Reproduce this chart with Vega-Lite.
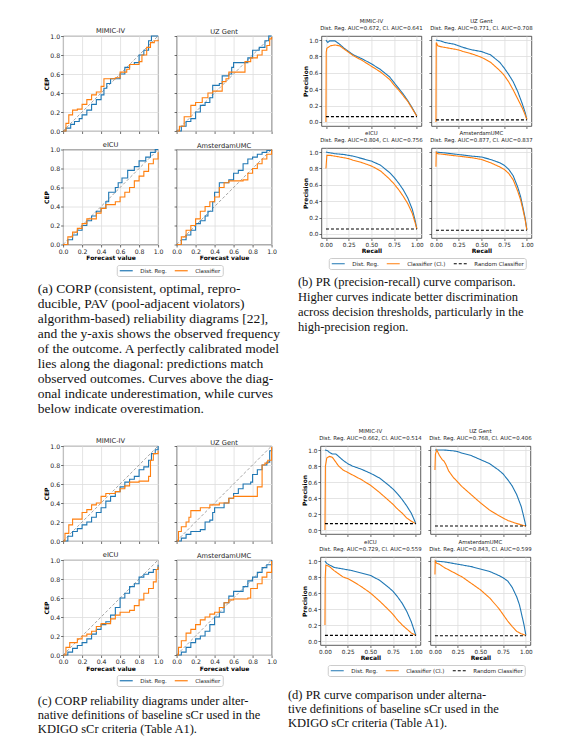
{
"$schema": "https://vega.github.io/schema/vega-lite/v6.json",
"background": "white",
"padding": {"left": 37, "top": 18, "right": 5, "bottom": 3},
"datasets": {
"diag": [{"x":0,"y":0},{"x":1,"y":1}],
"a": [
{"d":"MIMIC-IV","s":"Dist. Reg.","x":0,"y":0},{"d":"MIMIC-IV","s":"Dist. Reg.","x":0.03,"y":0.03},{"d":"MIMIC-IV","s":"Dist. Reg.","x":0.08,"y":0.07},{"d":"MIMIC-IV","s":"Dist. Reg.","x":0.12,"y":0.1},{"d":"MIMIC-IV","s":"Dist. Reg.","x":0.17,"y":0.13},{"d":"MIMIC-IV","s":"Dist. Reg.","x":0.2,"y":0.17},{"d":"MIMIC-IV","s":"Dist. Reg.","x":0.25,"y":0.22},{"d":"MIMIC-IV","s":"Dist. Reg.","x":0.3,"y":0.28},{"d":"MIMIC-IV","s":"Dist. Reg.","x":0.35,"y":0.33},{"d":"MIMIC-IV","s":"Dist. Reg.","x":0.4,"y":0.38},{"d":"MIMIC-IV","s":"Dist. Reg.","x":0.43,"y":0.45},{"d":"MIMIC-IV","s":"Dist. Reg.","x":0.46,"y":0.5},{"d":"MIMIC-IV","s":"Dist. Reg.","x":0.5,"y":0.55},{"d":"MIMIC-IV","s":"Dist. Reg.","x":0.6,"y":0.6},{"d":"MIMIC-IV","s":"Dist. Reg.","x":0.65,"y":0.67},{"d":"MIMIC-IV","s":"Dist. Reg.","x":0.7,"y":0.7},{"d":"MIMIC-IV","s":"Dist. Reg.","x":0.75,"y":0.72},{"d":"MIMIC-IV","s":"Dist. Reg.","x":0.8,"y":0.8},{"d":"MIMIC-IV","s":"Dist. Reg.","x":0.85,"y":0.85},{"d":"MIMIC-IV","s":"Dist. Reg.","x":0.9,"y":0.95},{"d":"MIMIC-IV","s":"Dist. Reg.","x":0.93,"y":1},{"d":"MIMIC-IV","s":"Dist. Reg.","x":1,"y":1},
{"d":"MIMIC-IV","s":"Classifier","x":0,"y":0},{"d":"MIMIC-IV","s":"Classifier","x":0.03,"y":0.08},{"d":"MIMIC-IV","s":"Classifier","x":0.06,"y":0.17},{"d":"MIMIC-IV","s":"Classifier","x":0.1,"y":0.22},{"d":"MIMIC-IV","s":"Classifier","x":0.15,"y":0.23},{"d":"MIMIC-IV","s":"Classifier","x":0.2,"y":0.28},{"d":"MIMIC-IV","s":"Classifier","x":0.25,"y":0.33},{"d":"MIMIC-IV","s":"Classifier","x":0.3,"y":0.38},{"d":"MIMIC-IV","s":"Classifier","x":0.35,"y":0.41},{"d":"MIMIC-IV","s":"Classifier","x":0.4,"y":0.47},{"d":"MIMIC-IV","s":"Classifier","x":0.43,"y":0.55},{"d":"MIMIC-IV","s":"Classifier","x":0.55,"y":0.56},{"d":"MIMIC-IV","s":"Classifier","x":0.6,"y":0.62},{"d":"MIMIC-IV","s":"Classifier","x":0.67,"y":0.65},{"d":"MIMIC-IV","s":"Classifier","x":0.7,"y":0.7},{"d":"MIMIC-IV","s":"Classifier","x":0.8,"y":0.73},{"d":"MIMIC-IV","s":"Classifier","x":0.83,"y":0.8},{"d":"MIMIC-IV","s":"Classifier","x":0.88,"y":0.88},{"d":"MIMIC-IV","s":"Classifier","x":0.92,"y":0.93},{"d":"MIMIC-IV","s":"Classifier","x":0.96,"y":0.95},{"d":"MIMIC-IV","s":"Classifier","x":1,"y":0.96},
{"d":"UZ Gent","s":"Dist. Reg.","x":0,"y":0},{"d":"UZ Gent","s":"Dist. Reg.","x":0.05,"y":0.05},{"d":"UZ Gent","s":"Dist. Reg.","x":0.1,"y":0.1},{"d":"UZ Gent","s":"Dist. Reg.","x":0.15,"y":0.13},{"d":"UZ Gent","s":"Dist. Reg.","x":0.2,"y":0.2},{"d":"UZ Gent","s":"Dist. Reg.","x":0.25,"y":0.27},{"d":"UZ Gent","s":"Dist. Reg.","x":0.3,"y":0.3},{"d":"UZ Gent","s":"Dist. Reg.","x":0.35,"y":0.35},{"d":"UZ Gent","s":"Dist. Reg.","x":0.38,"y":0.48},{"d":"UZ Gent","s":"Dist. Reg.","x":0.45,"y":0.5},{"d":"UZ Gent","s":"Dist. Reg.","x":0.48,"y":0.58},{"d":"UZ Gent","s":"Dist. Reg.","x":0.55,"y":0.6},{"d":"UZ Gent","s":"Dist. Reg.","x":0.58,"y":0.67},{"d":"UZ Gent","s":"Dist. Reg.","x":0.6,"y":0.72},{"d":"UZ Gent","s":"Dist. Reg.","x":0.75,"y":0.77},{"d":"UZ Gent","s":"Dist. Reg.","x":0.8,"y":0.85},{"d":"UZ Gent","s":"Dist. Reg.","x":0.87,"y":0.88},{"d":"UZ Gent","s":"Dist. Reg.","x":0.93,"y":0.95},{"d":"UZ Gent","s":"Dist. Reg.","x":0.97,"y":1},{"d":"UZ Gent","s":"Dist. Reg.","x":1,"y":1},
{"d":"UZ Gent","s":"Classifier","x":0,"y":0},{"d":"UZ Gent","s":"Classifier","x":0.03,"y":0.05},{"d":"UZ Gent","s":"Classifier","x":0.08,"y":0.15},{"d":"UZ Gent","s":"Classifier","x":0.15,"y":0.27},{"d":"UZ Gent","s":"Classifier","x":0.2,"y":0.3},{"d":"UZ Gent","s":"Classifier","x":0.27,"y":0.35},{"d":"UZ Gent","s":"Classifier","x":0.33,"y":0.4},{"d":"UZ Gent","s":"Classifier","x":0.38,"y":0.42},{"d":"UZ Gent","s":"Classifier","x":0.45,"y":0.42},{"d":"UZ Gent","s":"Classifier","x":0.48,"y":0.52},{"d":"UZ Gent","s":"Classifier","x":0.52,"y":0.55},{"d":"UZ Gent","s":"Classifier","x":0.55,"y":0.62},{"d":"UZ Gent","s":"Classifier","x":0.7,"y":0.62},{"d":"UZ Gent","s":"Classifier","x":0.72,"y":0.73},{"d":"UZ Gent","s":"Classifier","x":0.78,"y":0.77},{"d":"UZ Gent","s":"Classifier","x":0.85,"y":0.8},{"d":"UZ Gent","s":"Classifier","x":0.9,"y":0.85},{"d":"UZ Gent","s":"Classifier","x":0.95,"y":0.9},{"d":"UZ Gent","s":"Classifier","x":0.98,"y":0.97},{"d":"UZ Gent","s":"Classifier","x":1,"y":0.99},
{"d":"eICU","s":"Dist. Reg.","x":0,"y":0},{"d":"eICU","s":"Dist. Reg.","x":0.05,"y":0.05},{"d":"eICU","s":"Dist. Reg.","x":0.1,"y":0.1},{"d":"eICU","s":"Dist. Reg.","x":0.15,"y":0.15},{"d":"eICU","s":"Dist. Reg.","x":0.2,"y":0.2},{"d":"eICU","s":"Dist. Reg.","x":0.25,"y":0.25},{"d":"eICU","s":"Dist. Reg.","x":0.3,"y":0.3},{"d":"eICU","s":"Dist. Reg.","x":0.35,"y":0.35},{"d":"eICU","s":"Dist. Reg.","x":0.4,"y":0.38},{"d":"eICU","s":"Dist. Reg.","x":0.45,"y":0.45},{"d":"eICU","s":"Dist. Reg.","x":0.48,"y":0.55},{"d":"eICU","s":"Dist. Reg.","x":0.55,"y":0.6},{"d":"eICU","s":"Dist. Reg.","x":0.58,"y":0.65},{"d":"eICU","s":"Dist. Reg.","x":0.62,"y":0.7},{"d":"eICU","s":"Dist. Reg.","x":0.68,"y":0.78},{"d":"eICU","s":"Dist. Reg.","x":0.75,"y":0.82},{"d":"eICU","s":"Dist. Reg.","x":0.8,"y":0.88},{"d":"eICU","s":"Dist. Reg.","x":0.87,"y":0.92},{"d":"eICU","s":"Dist. Reg.","x":0.92,"y":0.97},{"d":"eICU","s":"Dist. Reg.","x":0.97,"y":1},{"d":"eICU","s":"Dist. Reg.","x":1,"y":1},
{"d":"eICU","s":"Classifier","x":0,"y":0},{"d":"eICU","s":"Classifier","x":0.05,"y":0.08},{"d":"eICU","s":"Classifier","x":0.1,"y":0.13},{"d":"eICU","s":"Classifier","x":0.15,"y":0.17},{"d":"eICU","s":"Classifier","x":0.2,"y":0.22},{"d":"eICU","s":"Classifier","x":0.25,"y":0.27},{"d":"eICU","s":"Classifier","x":0.35,"y":0.33},{"d":"eICU","s":"Classifier","x":0.4,"y":0.38},{"d":"eICU","s":"Classifier","x":0.45,"y":0.42},{"d":"eICU","s":"Classifier","x":0.55,"y":0.45},{"d":"eICU","s":"Classifier","x":0.6,"y":0.5},{"d":"eICU","s":"Classifier","x":0.65,"y":0.55},{"d":"eICU","s":"Classifier","x":0.7,"y":0.6},{"d":"eICU","s":"Classifier","x":0.75,"y":0.67},{"d":"eICU","s":"Classifier","x":0.8,"y":0.72},{"d":"eICU","s":"Classifier","x":0.85,"y":0.77},{"d":"eICU","s":"Classifier","x":0.9,"y":0.85},{"d":"eICU","s":"Classifier","x":0.95,"y":0.9},{"d":"eICU","s":"Classifier","x":1,"y":0.97},
{"d":"AmsterdamUMC","s":"Dist. Reg.","x":0,"y":0},{"d":"AmsterdamUMC","s":"Dist. Reg.","x":0.05,"y":0.05},{"d":"AmsterdamUMC","s":"Dist. Reg.","x":0.1,"y":0.1},{"d":"AmsterdamUMC","s":"Dist. Reg.","x":0.15,"y":0.15},{"d":"AmsterdamUMC","s":"Dist. Reg.","x":0.2,"y":0.22},{"d":"AmsterdamUMC","s":"Dist. Reg.","x":0.25,"y":0.25},{"d":"AmsterdamUMC","s":"Dist. Reg.","x":0.3,"y":0.3},{"d":"AmsterdamUMC","s":"Dist. Reg.","x":0.33,"y":0.35},{"d":"AmsterdamUMC","s":"Dist. Reg.","x":0.38,"y":0.45},{"d":"AmsterdamUMC","s":"Dist. Reg.","x":0.4,"y":0.55},{"d":"AmsterdamUMC","s":"Dist. Reg.","x":0.45,"y":0.65},{"d":"AmsterdamUMC","s":"Dist. Reg.","x":0.55,"y":0.68},{"d":"AmsterdamUMC","s":"Dist. Reg.","x":0.6,"y":0.75},{"d":"AmsterdamUMC","s":"Dist. Reg.","x":0.65,"y":0.78},{"d":"AmsterdamUMC","s":"Dist. Reg.","x":0.7,"y":0.85},{"d":"AmsterdamUMC","s":"Dist. Reg.","x":0.75,"y":0.9},{"d":"AmsterdamUMC","s":"Dist. Reg.","x":0.8,"y":0.92},{"d":"AmsterdamUMC","s":"Dist. Reg.","x":0.85,"y":0.95},{"d":"AmsterdamUMC","s":"Dist. Reg.","x":0.9,"y":0.97},{"d":"AmsterdamUMC","s":"Dist. Reg.","x":0.95,"y":0.99},{"d":"AmsterdamUMC","s":"Dist. Reg.","x":1,"y":1},
{"d":"AmsterdamUMC","s":"Classifier","x":0,"y":0},{"d":"AmsterdamUMC","s":"Classifier","x":0.05,"y":0.08},{"d":"AmsterdamUMC","s":"Classifier","x":0.1,"y":0.15},{"d":"AmsterdamUMC","s":"Classifier","x":0.15,"y":0.2},{"d":"AmsterdamUMC","s":"Classifier","x":0.2,"y":0.27},{"d":"AmsterdamUMC","s":"Classifier","x":0.25,"y":0.35},{"d":"AmsterdamUMC","s":"Classifier","x":0.3,"y":0.4},{"d":"AmsterdamUMC","s":"Classifier","x":0.35,"y":0.45},{"d":"AmsterdamUMC","s":"Classifier","x":0.4,"y":0.5},{"d":"AmsterdamUMC","s":"Classifier","x":0.45,"y":0.6},{"d":"AmsterdamUMC","s":"Classifier","x":0.5,"y":0.65},{"d":"AmsterdamUMC","s":"Classifier","x":0.55,"y":0.67},{"d":"AmsterdamUMC","s":"Classifier","x":0.7,"y":0.68},{"d":"AmsterdamUMC","s":"Classifier","x":0.75,"y":0.75},{"d":"AmsterdamUMC","s":"Classifier","x":0.8,"y":0.8},{"d":"AmsterdamUMC","s":"Classifier","x":0.85,"y":0.85},{"d":"AmsterdamUMC","s":"Classifier","x":0.9,"y":0.9},{"d":"AmsterdamUMC","s":"Classifier","x":0.95,"y":0.95},{"d":"AmsterdamUMC","s":"Classifier","x":1,"y":1}
],
"c": [
{"d":"MIMIC-IV","s":"Dist. Reg.","x":0,"y":0},{"d":"MIMIC-IV","s":"Dist. Reg.","x":0.05,"y":0.05},{"d":"MIMIC-IV","s":"Dist. Reg.","x":0.1,"y":0.1},{"d":"MIMIC-IV","s":"Dist. Reg.","x":0.15,"y":0.13},{"d":"MIMIC-IV","s":"Dist. Reg.","x":0.2,"y":0.17},{"d":"MIMIC-IV","s":"Dist. Reg.","x":0.25,"y":0.2},{"d":"MIMIC-IV","s":"Dist. Reg.","x":0.3,"y":0.25},{"d":"MIMIC-IV","s":"Dist. Reg.","x":0.35,"y":0.3},{"d":"MIMIC-IV","s":"Dist. Reg.","x":0.4,"y":0.35},{"d":"MIMIC-IV","s":"Dist. Reg.","x":0.45,"y":0.42},{"d":"MIMIC-IV","s":"Dist. Reg.","x":0.5,"y":0.47},{"d":"MIMIC-IV","s":"Dist. Reg.","x":0.55,"y":0.52},{"d":"MIMIC-IV","s":"Dist. Reg.","x":0.6,"y":0.57},{"d":"MIMIC-IV","s":"Dist. Reg.","x":0.65,"y":0.62},{"d":"MIMIC-IV","s":"Dist. Reg.","x":0.7,"y":0.65},{"d":"MIMIC-IV","s":"Dist. Reg.","x":0.75,"y":0.68},{"d":"MIMIC-IV","s":"Dist. Reg.","x":0.8,"y":0.75},{"d":"MIMIC-IV","s":"Dist. Reg.","x":0.85,"y":0.78},{"d":"MIMIC-IV","s":"Dist. Reg.","x":0.9,"y":0.85},{"d":"MIMIC-IV","s":"Dist. Reg.","x":0.93,"y":0.92},{"d":"MIMIC-IV","s":"Dist. Reg.","x":0.97,"y":0.96},{"d":"MIMIC-IV","s":"Dist. Reg.","x":1,"y":1},
{"d":"MIMIC-IV","s":"Classifier","x":0,"y":0},{"d":"MIMIC-IV","s":"Classifier","x":0.02,"y":0.08},{"d":"MIMIC-IV","s":"Classifier","x":0.06,"y":0.17},{"d":"MIMIC-IV","s":"Classifier","x":0.1,"y":0.23},{"d":"MIMIC-IV","s":"Classifier","x":0.2,"y":0.3},{"d":"MIMIC-IV","s":"Classifier","x":0.25,"y":0.33},{"d":"MIMIC-IV","s":"Classifier","x":0.3,"y":0.38},{"d":"MIMIC-IV","s":"Classifier","x":0.35,"y":0.4},{"d":"MIMIC-IV","s":"Classifier","x":0.4,"y":0.47},{"d":"MIMIC-IV","s":"Classifier","x":0.45,"y":0.5},{"d":"MIMIC-IV","s":"Classifier","x":0.55,"y":0.52},{"d":"MIMIC-IV","s":"Classifier","x":0.6,"y":0.55},{"d":"MIMIC-IV","s":"Classifier","x":0.65,"y":0.58},{"d":"MIMIC-IV","s":"Classifier","x":0.7,"y":0.62},{"d":"MIMIC-IV","s":"Classifier","x":0.8,"y":0.63},{"d":"MIMIC-IV","s":"Classifier","x":0.9,"y":0.68},{"d":"MIMIC-IV","s":"Classifier","x":0.92,"y":0.85},{"d":"MIMIC-IV","s":"Classifier","x":0.95,"y":0.92},{"d":"MIMIC-IV","s":"Classifier","x":1,"y":0.95},
{"d":"UZ Gent","s":"Dist. Reg.","x":0,"y":0},{"d":"UZ Gent","s":"Dist. Reg.","x":0.05,"y":0.03},{"d":"UZ Gent","s":"Dist. Reg.","x":0.1,"y":0.07},{"d":"UZ Gent","s":"Dist. Reg.","x":0.15,"y":0.1},{"d":"UZ Gent","s":"Dist. Reg.","x":0.25,"y":0.12},{"d":"UZ Gent","s":"Dist. Reg.","x":0.3,"y":0.2},{"d":"UZ Gent","s":"Dist. Reg.","x":0.35,"y":0.22},{"d":"UZ Gent","s":"Dist. Reg.","x":0.38,"y":0.3},{"d":"UZ Gent","s":"Dist. Reg.","x":0.4,"y":0.35},{"d":"UZ Gent","s":"Dist. Reg.","x":0.5,"y":0.4},{"d":"UZ Gent","s":"Dist. Reg.","x":0.55,"y":0.45},{"d":"UZ Gent","s":"Dist. Reg.","x":0.6,"y":0.5},{"d":"UZ Gent","s":"Dist. Reg.","x":0.65,"y":0.55},{"d":"UZ Gent","s":"Dist. Reg.","x":0.7,"y":0.6},{"d":"UZ Gent","s":"Dist. Reg.","x":0.78,"y":0.62},{"d":"UZ Gent","s":"Dist. Reg.","x":0.8,"y":0.7},{"d":"UZ Gent","s":"Dist. Reg.","x":0.85,"y":0.75},{"d":"UZ Gent","s":"Dist. Reg.","x":0.9,"y":0.8},{"d":"UZ Gent","s":"Dist. Reg.","x":0.95,"y":0.83},{"d":"UZ Gent","s":"Dist. Reg.","x":0.98,"y":0.95},{"d":"UZ Gent","s":"Dist. Reg.","x":1,"y":0.98},
{"d":"UZ Gent","s":"Classifier","x":0,"y":0},{"d":"UZ Gent","s":"Classifier","x":0.02,"y":0.1},{"d":"UZ Gent","s":"Classifier","x":0.05,"y":0.15},{"d":"UZ Gent","s":"Classifier","x":0.1,"y":0.2},{"d":"UZ Gent","s":"Classifier","x":0.13,"y":0.25},{"d":"UZ Gent","s":"Classifier","x":0.15,"y":0.32},{"d":"UZ Gent","s":"Classifier","x":0.25,"y":0.35},{"d":"UZ Gent","s":"Classifier","x":0.35,"y":0.38},{"d":"UZ Gent","s":"Classifier","x":0.45,"y":0.4},{"d":"UZ Gent","s":"Classifier","x":0.55,"y":0.45},{"d":"UZ Gent","s":"Classifier","x":0.6,"y":0.47},{"d":"UZ Gent","s":"Classifier","x":0.8,"y":0.47},{"d":"UZ Gent","s":"Classifier","x":0.85,"y":0.57},{"d":"UZ Gent","s":"Classifier","x":0.9,"y":0.8},{"d":"UZ Gent","s":"Classifier","x":0.93,"y":0.82},{"d":"UZ Gent","s":"Classifier","x":0.96,"y":0.85},{"d":"UZ Gent","s":"Classifier","x":1,"y":0.99},
{"d":"eICU","s":"Dist. Reg.","x":0,"y":0},{"d":"eICU","s":"Dist. Reg.","x":0.05,"y":0.03},{"d":"eICU","s":"Dist. Reg.","x":0.1,"y":0.07},{"d":"eICU","s":"Dist. Reg.","x":0.15,"y":0.1},{"d":"eICU","s":"Dist. Reg.","x":0.2,"y":0.13},{"d":"eICU","s":"Dist. Reg.","x":0.25,"y":0.17},{"d":"eICU","s":"Dist. Reg.","x":0.3,"y":0.22},{"d":"eICU","s":"Dist. Reg.","x":0.35,"y":0.27},{"d":"eICU","s":"Dist. Reg.","x":0.4,"y":0.32},{"d":"eICU","s":"Dist. Reg.","x":0.45,"y":0.35},{"d":"eICU","s":"Dist. Reg.","x":0.5,"y":0.42},{"d":"eICU","s":"Dist. Reg.","x":0.55,"y":0.5},{"d":"eICU","s":"Dist. Reg.","x":0.6,"y":0.6},{"d":"eICU","s":"Dist. Reg.","x":0.65,"y":0.65},{"d":"eICU","s":"Dist. Reg.","x":0.7,"y":0.72},{"d":"eICU","s":"Dist. Reg.","x":0.75,"y":0.75},{"d":"eICU","s":"Dist. Reg.","x":0.8,"y":0.82},{"d":"eICU","s":"Dist. Reg.","x":0.85,"y":0.85},{"d":"eICU","s":"Dist. Reg.","x":0.9,"y":0.87},{"d":"eICU","s":"Dist. Reg.","x":0.95,"y":0.9},{"d":"eICU","s":"Dist. Reg.","x":1,"y":0.95},
{"d":"eICU","s":"Classifier","x":0,"y":0},{"d":"eICU","s":"Classifier","x":0.03,"y":0.08},{"d":"eICU","s":"Classifier","x":0.07,"y":0.13},{"d":"eICU","s":"Classifier","x":0.15,"y":0.17},{"d":"eICU","s":"Classifier","x":0.2,"y":0.2},{"d":"eICU","s":"Classifier","x":0.25,"y":0.22},{"d":"eICU","s":"Classifier","x":0.3,"y":0.25},{"d":"eICU","s":"Classifier","x":0.35,"y":0.3},{"d":"eICU","s":"Classifier","x":0.4,"y":0.33},{"d":"eICU","s":"Classifier","x":0.5,"y":0.38},{"d":"eICU","s":"Classifier","x":0.55,"y":0.42},{"d":"eICU","s":"Classifier","x":0.6,"y":0.45},{"d":"eICU","s":"Classifier","x":0.7,"y":0.47},{"d":"eICU","s":"Classifier","x":0.75,"y":0.52},{"d":"eICU","s":"Classifier","x":0.8,"y":0.58},{"d":"eICU","s":"Classifier","x":0.85,"y":0.65},{"d":"eICU","s":"Classifier","x":0.9,"y":0.7},{"d":"eICU","s":"Classifier","x":0.95,"y":0.77},{"d":"eICU","s":"Classifier","x":0.98,"y":0.9},{"d":"eICU","s":"Classifier","x":1,"y":0.93},
{"d":"AmsterdamUMC","s":"Dist. Reg.","x":0,"y":0},{"d":"AmsterdamUMC","s":"Dist. Reg.","x":0.05,"y":0.03},{"d":"AmsterdamUMC","s":"Dist. Reg.","x":0.1,"y":0.08},{"d":"AmsterdamUMC","s":"Dist. Reg.","x":0.15,"y":0.13},{"d":"AmsterdamUMC","s":"Dist. Reg.","x":0.2,"y":0.17},{"d":"AmsterdamUMC","s":"Dist. Reg.","x":0.25,"y":0.2},{"d":"AmsterdamUMC","s":"Dist. Reg.","x":0.3,"y":0.25},{"d":"AmsterdamUMC","s":"Dist. Reg.","x":0.35,"y":0.32},{"d":"AmsterdamUMC","s":"Dist. Reg.","x":0.4,"y":0.4},{"d":"AmsterdamUMC","s":"Dist. Reg.","x":0.45,"y":0.45},{"d":"AmsterdamUMC","s":"Dist. Reg.","x":0.5,"y":0.55},{"d":"AmsterdamUMC","s":"Dist. Reg.","x":0.55,"y":0.62},{"d":"AmsterdamUMC","s":"Dist. Reg.","x":0.6,"y":0.67},{"d":"AmsterdamUMC","s":"Dist. Reg.","x":0.7,"y":0.72},{"d":"AmsterdamUMC","s":"Dist. Reg.","x":0.75,"y":0.78},{"d":"AmsterdamUMC","s":"Dist. Reg.","x":0.8,"y":0.82},{"d":"AmsterdamUMC","s":"Dist. Reg.","x":0.85,"y":0.87},{"d":"AmsterdamUMC","s":"Dist. Reg.","x":0.9,"y":0.92},{"d":"AmsterdamUMC","s":"Dist. Reg.","x":0.95,"y":0.95},{"d":"AmsterdamUMC","s":"Dist. Reg.","x":1,"y":1},
{"d":"AmsterdamUMC","s":"Classifier","x":0,"y":0},{"d":"AmsterdamUMC","s":"Classifier","x":0.02,"y":0.08},{"d":"AmsterdamUMC","s":"Classifier","x":0.05,"y":0.15},{"d":"AmsterdamUMC","s":"Classifier","x":0.1,"y":0.23},{"d":"AmsterdamUMC","s":"Classifier","x":0.15,"y":0.27},{"d":"AmsterdamUMC","s":"Classifier","x":0.2,"y":0.32},{"d":"AmsterdamUMC","s":"Classifier","x":0.25,"y":0.37},{"d":"AmsterdamUMC","s":"Classifier","x":0.3,"y":0.4},{"d":"AmsterdamUMC","s":"Classifier","x":0.35,"y":0.43},{"d":"AmsterdamUMC","s":"Classifier","x":0.4,"y":0.45},{"d":"AmsterdamUMC","s":"Classifier","x":0.45,"y":0.5},{"d":"AmsterdamUMC","s":"Classifier","x":0.5,"y":0.55},{"d":"AmsterdamUMC","s":"Classifier","x":0.55,"y":0.58},{"d":"AmsterdamUMC","s":"Classifier","x":0.6,"y":0.59},{"d":"AmsterdamUMC","s":"Classifier","x":0.75,"y":0.6},{"d":"AmsterdamUMC","s":"Classifier","x":0.78,"y":0.7},{"d":"AmsterdamUMC","s":"Classifier","x":0.85,"y":0.75},{"d":"AmsterdamUMC","s":"Classifier","x":0.9,"y":0.82},{"d":"AmsterdamUMC","s":"Classifier","x":0.95,"y":0.87},{"d":"AmsterdamUMC","s":"Classifier","x":1,"y":0.99}
],
"b": [
{"d":"MIMIC-IV","s":"Dist. Reg.","x":0,"y":1},{"d":"MIMIC-IV","s":"Dist. Reg.","x":0.02,"y":0.97},{"d":"MIMIC-IV","s":"Dist. Reg.","x":0.04,"y":0.99},{"d":"MIMIC-IV","s":"Dist. Reg.","x":0.1,"y":0.99},{"d":"MIMIC-IV","s":"Dist. Reg.","x":0.15,"y":0.95},{"d":"MIMIC-IV","s":"Dist. Reg.","x":0.2,"y":0.9},{"d":"MIMIC-IV","s":"Dist. Reg.","x":0.25,"y":0.86},{"d":"MIMIC-IV","s":"Dist. Reg.","x":0.3,"y":0.82},{"d":"MIMIC-IV","s":"Dist. Reg.","x":0.4,"y":0.77},{"d":"MIMIC-IV","s":"Dist. Reg.","x":0.5,"y":0.71},{"d":"MIMIC-IV","s":"Dist. Reg.","x":0.6,"y":0.64},{"d":"MIMIC-IV","s":"Dist. Reg.","x":0.7,"y":0.55},{"d":"MIMIC-IV","s":"Dist. Reg.","x":0.75,"y":0.48},{"d":"MIMIC-IV","s":"Dist. Reg.","x":0.8,"y":0.41},{"d":"MIMIC-IV","s":"Dist. Reg.","x":0.85,"y":0.34},{"d":"MIMIC-IV","s":"Dist. Reg.","x":0.9,"y":0.26},{"d":"MIMIC-IV","s":"Dist. Reg.","x":0.95,"y":0.17},{"d":"MIMIC-IV","s":"Dist. Reg.","x":1,"y":0.07},
{"d":"MIMIC-IV","s":"Classifier (Cl.)","x":0,"y":0},{"d":"MIMIC-IV","s":"Classifier (Cl.)","x":0.003,"y":0.85},{"d":"MIMIC-IV","s":"Classifier (Cl.)","x":0.01,"y":0.9},{"d":"MIMIC-IV","s":"Classifier (Cl.)","x":0.05,"y":0.93},{"d":"MIMIC-IV","s":"Classifier (Cl.)","x":0.1,"y":0.94},{"d":"MIMIC-IV","s":"Classifier (Cl.)","x":0.15,"y":0.93},{"d":"MIMIC-IV","s":"Classifier (Cl.)","x":0.2,"y":0.89},{"d":"MIMIC-IV","s":"Classifier (Cl.)","x":0.25,"y":0.85},{"d":"MIMIC-IV","s":"Classifier (Cl.)","x":0.3,"y":0.81},{"d":"MIMIC-IV","s":"Classifier (Cl.)","x":0.4,"y":0.75},{"d":"MIMIC-IV","s":"Classifier (Cl.)","x":0.5,"y":0.68},{"d":"MIMIC-IV","s":"Classifier (Cl.)","x":0.6,"y":0.61},{"d":"MIMIC-IV","s":"Classifier (Cl.)","x":0.7,"y":0.52},{"d":"MIMIC-IV","s":"Classifier (Cl.)","x":0.75,"y":0.45},{"d":"MIMIC-IV","s":"Classifier (Cl.)","x":0.8,"y":0.39},{"d":"MIMIC-IV","s":"Classifier (Cl.)","x":0.85,"y":0.32},{"d":"MIMIC-IV","s":"Classifier (Cl.)","x":0.9,"y":0.25},{"d":"MIMIC-IV","s":"Classifier (Cl.)","x":0.95,"y":0.16},{"d":"MIMIC-IV","s":"Classifier (Cl.)","x":1,"y":0.07},
{"d":"MIMIC-IV","s":"Random Classifier","x":0,"y":0.065},{"d":"MIMIC-IV","s":"Random Classifier","x":1,"y":0.065},
{"d":"UZ Gent","s":"Dist. Reg.","x":0,"y":1},{"d":"UZ Gent","s":"Dist. Reg.","x":0.05,"y":0.99},{"d":"UZ Gent","s":"Dist. Reg.","x":0.1,"y":0.97},{"d":"UZ Gent","s":"Dist. Reg.","x":0.2,"y":0.95},{"d":"UZ Gent","s":"Dist. Reg.","x":0.25,"y":0.93},{"d":"UZ Gent","s":"Dist. Reg.","x":0.3,"y":0.91},{"d":"UZ Gent","s":"Dist. Reg.","x":0.4,"y":0.88},{"d":"UZ Gent","s":"Dist. Reg.","x":0.5,"y":0.86},{"d":"UZ Gent","s":"Dist. Reg.","x":0.6,"y":0.82},{"d":"UZ Gent","s":"Dist. Reg.","x":0.7,"y":0.73},{"d":"UZ Gent","s":"Dist. Reg.","x":0.75,"y":0.66},{"d":"UZ Gent","s":"Dist. Reg.","x":0.8,"y":0.58},{"d":"UZ Gent","s":"Dist. Reg.","x":0.85,"y":0.49},{"d":"UZ Gent","s":"Dist. Reg.","x":0.9,"y":0.37},{"d":"UZ Gent","s":"Dist. Reg.","x":0.95,"y":0.22},{"d":"UZ Gent","s":"Dist. Reg.","x":0.98,"y":0.12},{"d":"UZ Gent","s":"Dist. Reg.","x":1,"y":0.03},
{"d":"UZ Gent","s":"Classifier (Cl.)","x":0,"y":0},{"d":"UZ Gent","s":"Classifier (Cl.)","x":0.003,"y":0.97},{"d":"UZ Gent","s":"Classifier (Cl.)","x":0.02,"y":0.93},{"d":"UZ Gent","s":"Classifier (Cl.)","x":0.05,"y":0.92},{"d":"UZ Gent","s":"Classifier (Cl.)","x":0.1,"y":0.91},{"d":"UZ Gent","s":"Classifier (Cl.)","x":0.2,"y":0.89},{"d":"UZ Gent","s":"Classifier (Cl.)","x":0.25,"y":0.88},{"d":"UZ Gent","s":"Classifier (Cl.)","x":0.3,"y":0.86},{"d":"UZ Gent","s":"Classifier (Cl.)","x":0.4,"y":0.83},{"d":"UZ Gent","s":"Classifier (Cl.)","x":0.5,"y":0.79},{"d":"UZ Gent","s":"Classifier (Cl.)","x":0.6,"y":0.73},{"d":"UZ Gent","s":"Classifier (Cl.)","x":0.7,"y":0.63},{"d":"UZ Gent","s":"Classifier (Cl.)","x":0.75,"y":0.57},{"d":"UZ Gent","s":"Classifier (Cl.)","x":0.8,"y":0.49},{"d":"UZ Gent","s":"Classifier (Cl.)","x":0.85,"y":0.39},{"d":"UZ Gent","s":"Classifier (Cl.)","x":0.9,"y":0.28},{"d":"UZ Gent","s":"Classifier (Cl.)","x":0.95,"y":0.17},{"d":"UZ Gent","s":"Classifier (Cl.)","x":0.98,"y":0.09},{"d":"UZ Gent","s":"Classifier (Cl.)","x":1,"y":0.03},
{"d":"UZ Gent","s":"Random Classifier","x":0,"y":0.025},{"d":"UZ Gent","s":"Random Classifier","x":1,"y":0.025},
{"d":"eICU","s":"Dist. Reg.","x":0,"y":1},{"d":"eICU","s":"Dist. Reg.","x":0.1,"y":0.98},{"d":"eICU","s":"Dist. Reg.","x":0.2,"y":0.97},{"d":"eICU","s":"Dist. Reg.","x":0.25,"y":0.96},{"d":"eICU","s":"Dist. Reg.","x":0.3,"y":0.95},{"d":"eICU","s":"Dist. Reg.","x":0.4,"y":0.92},{"d":"eICU","s":"Dist. Reg.","x":0.5,"y":0.89},{"d":"eICU","s":"Dist. Reg.","x":0.6,"y":0.84},{"d":"eICU","s":"Dist. Reg.","x":0.7,"y":0.75},{"d":"eICU","s":"Dist. Reg.","x":0.75,"y":0.69},{"d":"eICU","s":"Dist. Reg.","x":0.8,"y":0.62},{"d":"eICU","s":"Dist. Reg.","x":0.85,"y":0.54},{"d":"eICU","s":"Dist. Reg.","x":0.9,"y":0.44},{"d":"eICU","s":"Dist. Reg.","x":0.95,"y":0.3},{"d":"eICU","s":"Dist. Reg.","x":0.98,"y":0.17},{"d":"eICU","s":"Dist. Reg.","x":1,"y":0.06},
{"d":"eICU","s":"Classifier (Cl.)","x":0,"y":0.8},{"d":"eICU","s":"Classifier (Cl.)","x":0.01,"y":0.96},{"d":"eICU","s":"Classifier (Cl.)","x":0.05,"y":0.96},{"d":"eICU","s":"Classifier (Cl.)","x":0.1,"y":0.95},{"d":"eICU","s":"Classifier (Cl.)","x":0.2,"y":0.93},{"d":"eICU","s":"Classifier (Cl.)","x":0.25,"y":0.92},{"d":"eICU","s":"Classifier (Cl.)","x":0.3,"y":0.9},{"d":"eICU","s":"Classifier (Cl.)","x":0.4,"y":0.87},{"d":"eICU","s":"Classifier (Cl.)","x":0.5,"y":0.83},{"d":"eICU","s":"Classifier (Cl.)","x":0.6,"y":0.77},{"d":"eICU","s":"Classifier (Cl.)","x":0.7,"y":0.67},{"d":"eICU","s":"Classifier (Cl.)","x":0.75,"y":0.61},{"d":"eICU","s":"Classifier (Cl.)","x":0.8,"y":0.54},{"d":"eICU","s":"Classifier (Cl.)","x":0.85,"y":0.46},{"d":"eICU","s":"Classifier (Cl.)","x":0.9,"y":0.37},{"d":"eICU","s":"Classifier (Cl.)","x":0.95,"y":0.25},{"d":"eICU","s":"Classifier (Cl.)","x":0.98,"y":0.14},{"d":"eICU","s":"Classifier (Cl.)","x":1,"y":0.06},
{"d":"eICU","s":"Random Classifier","x":0,"y":0.06},{"d":"eICU","s":"Random Classifier","x":1,"y":0.06},
{"d":"AmsterdamUMC","s":"Dist. Reg.","x":0,"y":1},{"d":"AmsterdamUMC","s":"Dist. Reg.","x":0.1,"y":0.99},{"d":"AmsterdamUMC","s":"Dist. Reg.","x":0.25,"y":0.97},{"d":"AmsterdamUMC","s":"Dist. Reg.","x":0.4,"y":0.95},{"d":"AmsterdamUMC","s":"Dist. Reg.","x":0.5,"y":0.94},{"d":"AmsterdamUMC","s":"Dist. Reg.","x":0.6,"y":0.91},{"d":"AmsterdamUMC","s":"Dist. Reg.","x":0.7,"y":0.87},{"d":"AmsterdamUMC","s":"Dist. Reg.","x":0.75,"y":0.84},{"d":"AmsterdamUMC","s":"Dist. Reg.","x":0.8,"y":0.79},{"d":"AmsterdamUMC","s":"Dist. Reg.","x":0.85,"y":0.71},{"d":"AmsterdamUMC","s":"Dist. Reg.","x":0.9,"y":0.57},{"d":"AmsterdamUMC","s":"Dist. Reg.","x":0.93,"y":0.46},{"d":"AmsterdamUMC","s":"Dist. Reg.","x":0.95,"y":0.36},{"d":"AmsterdamUMC","s":"Dist. Reg.","x":0.98,"y":0.2},{"d":"AmsterdamUMC","s":"Dist. Reg.","x":1,"y":0.05},
{"d":"AmsterdamUMC","s":"Classifier (Cl.)","x":0,"y":0.82},{"d":"AmsterdamUMC","s":"Classifier (Cl.)","x":0.003,"y":1},{"d":"AmsterdamUMC","s":"Classifier (Cl.)","x":0.02,"y":0.98},{"d":"AmsterdamUMC","s":"Classifier (Cl.)","x":0.1,"y":0.97},{"d":"AmsterdamUMC","s":"Classifier (Cl.)","x":0.25,"y":0.95},{"d":"AmsterdamUMC","s":"Classifier (Cl.)","x":0.4,"y":0.93},{"d":"AmsterdamUMC","s":"Classifier (Cl.)","x":0.5,"y":0.91},{"d":"AmsterdamUMC","s":"Classifier (Cl.)","x":0.6,"y":0.87},{"d":"AmsterdamUMC","s":"Classifier (Cl.)","x":0.7,"y":0.82},{"d":"AmsterdamUMC","s":"Classifier (Cl.)","x":0.75,"y":0.79},{"d":"AmsterdamUMC","s":"Classifier (Cl.)","x":0.8,"y":0.74},{"d":"AmsterdamUMC","s":"Classifier (Cl.)","x":0.85,"y":0.66},{"d":"AmsterdamUMC","s":"Classifier (Cl.)","x":0.9,"y":0.52},{"d":"AmsterdamUMC","s":"Classifier (Cl.)","x":0.93,"y":0.42},{"d":"AmsterdamUMC","s":"Classifier (Cl.)","x":0.95,"y":0.33},{"d":"AmsterdamUMC","s":"Classifier (Cl.)","x":0.98,"y":0.18},{"d":"AmsterdamUMC","s":"Classifier (Cl.)","x":1,"y":0.05},
{"d":"AmsterdamUMC","s":"Random Classifier","x":0,"y":0.045},{"d":"AmsterdamUMC","s":"Random Classifier","x":1,"y":0.045}
],
"dd": [
{"d":"MIMIC-IV","s":"Dist. Reg.","x":0,"y":1},{"d":"MIMIC-IV","s":"Dist. Reg.","x":0.03,"y":0.99},{"d":"MIMIC-IV","s":"Dist. Reg.","x":0.05,"y":0.97},{"d":"MIMIC-IV","s":"Dist. Reg.","x":0.08,"y":0.95},{"d":"MIMIC-IV","s":"Dist. Reg.","x":0.12,"y":0.95},{"d":"MIMIC-IV","s":"Dist. Reg.","x":0.15,"y":0.92},{"d":"MIMIC-IV","s":"Dist. Reg.","x":0.2,"y":0.87},{"d":"MIMIC-IV","s":"Dist. Reg.","x":0.25,"y":0.83},{"d":"MIMIC-IV","s":"Dist. Reg.","x":0.3,"y":0.8},{"d":"MIMIC-IV","s":"Dist. Reg.","x":0.4,"y":0.76},{"d":"MIMIC-IV","s":"Dist. Reg.","x":0.5,"y":0.71},{"d":"MIMIC-IV","s":"Dist. Reg.","x":0.6,"y":0.65},{"d":"MIMIC-IV","s":"Dist. Reg.","x":0.7,"y":0.56},{"d":"MIMIC-IV","s":"Dist. Reg.","x":0.75,"y":0.51},{"d":"MIMIC-IV","s":"Dist. Reg.","x":0.8,"y":0.45},{"d":"MIMIC-IV","s":"Dist. Reg.","x":0.85,"y":0.38},{"d":"MIMIC-IV","s":"Dist. Reg.","x":0.9,"y":0.3},{"d":"MIMIC-IV","s":"Dist. Reg.","x":0.95,"y":0.21},{"d":"MIMIC-IV","s":"Dist. Reg.","x":1,"y":0.08},
{"d":"MIMIC-IV","s":"Classifier (Cl.)","x":0,"y":0},{"d":"MIMIC-IV","s":"Classifier (Cl.)","x":0.005,"y":0.8},{"d":"MIMIC-IV","s":"Classifier (Cl.)","x":0.02,"y":0.9},{"d":"MIMIC-IV","s":"Classifier (Cl.)","x":0.05,"y":0.92},{"d":"MIMIC-IV","s":"Classifier (Cl.)","x":0.08,"y":0.91},{"d":"MIMIC-IV","s":"Classifier (Cl.)","x":0.1,"y":0.88},{"d":"MIMIC-IV","s":"Classifier (Cl.)","x":0.15,"y":0.8},{"d":"MIMIC-IV","s":"Classifier (Cl.)","x":0.2,"y":0.75},{"d":"MIMIC-IV","s":"Classifier (Cl.)","x":0.25,"y":0.72},{"d":"MIMIC-IV","s":"Classifier (Cl.)","x":0.3,"y":0.69},{"d":"MIMIC-IV","s":"Classifier (Cl.)","x":0.4,"y":0.63},{"d":"MIMIC-IV","s":"Classifier (Cl.)","x":0.5,"y":0.56},{"d":"MIMIC-IV","s":"Classifier (Cl.)","x":0.6,"y":0.47},{"d":"MIMIC-IV","s":"Classifier (Cl.)","x":0.7,"y":0.37},{"d":"MIMIC-IV","s":"Classifier (Cl.)","x":0.75,"y":0.32},{"d":"MIMIC-IV","s":"Classifier (Cl.)","x":0.8,"y":0.26},{"d":"MIMIC-IV","s":"Classifier (Cl.)","x":0.85,"y":0.21},{"d":"MIMIC-IV","s":"Classifier (Cl.)","x":0.9,"y":0.15},{"d":"MIMIC-IV","s":"Classifier (Cl.)","x":0.95,"y":0.11},{"d":"MIMIC-IV","s":"Classifier (Cl.)","x":1,"y":0.08},
{"d":"MIMIC-IV","s":"Random Classifier","x":0,"y":0.08},{"d":"MIMIC-IV","s":"Random Classifier","x":1,"y":0.08},
{"d":"UZ Gent","s":"Dist. Reg.","x":0,"y":1},{"d":"UZ Gent","s":"Dist. Reg.","x":0.1,"y":1},{"d":"UZ Gent","s":"Dist. Reg.","x":0.2,"y":0.99},{"d":"UZ Gent","s":"Dist. Reg.","x":0.25,"y":0.98},{"d":"UZ Gent","s":"Dist. Reg.","x":0.3,"y":0.96},{"d":"UZ Gent","s":"Dist. Reg.","x":0.4,"y":0.93},{"d":"UZ Gent","s":"Dist. Reg.","x":0.5,"y":0.88},{"d":"UZ Gent","s":"Dist. Reg.","x":0.6,"y":0.83},{"d":"UZ Gent","s":"Dist. Reg.","x":0.7,"y":0.75},{"d":"UZ Gent","s":"Dist. Reg.","x":0.75,"y":0.7},{"d":"UZ Gent","s":"Dist. Reg.","x":0.8,"y":0.63},{"d":"UZ Gent","s":"Dist. Reg.","x":0.85,"y":0.55},{"d":"UZ Gent","s":"Dist. Reg.","x":0.9,"y":0.44},{"d":"UZ Gent","s":"Dist. Reg.","x":0.95,"y":0.29},{"d":"UZ Gent","s":"Dist. Reg.","x":0.98,"y":0.15},{"d":"UZ Gent","s":"Dist. Reg.","x":1,"y":0.05},
{"d":"UZ Gent","s":"Classifier (Cl.)","x":0,"y":0.75},{"d":"UZ Gent","s":"Classifier (Cl.)","x":0.005,"y":0.95},{"d":"UZ Gent","s":"Classifier (Cl.)","x":0.02,"y":1},{"d":"UZ Gent","s":"Classifier (Cl.)","x":0.05,"y":0.93},{"d":"UZ Gent","s":"Classifier (Cl.)","x":0.08,"y":0.88},{"d":"UZ Gent","s":"Classifier (Cl.)","x":0.1,"y":0.86},{"d":"UZ Gent","s":"Classifier (Cl.)","x":0.12,"y":0.82},{"d":"UZ Gent","s":"Classifier (Cl.)","x":0.15,"y":0.74},{"d":"UZ Gent","s":"Classifier (Cl.)","x":0.2,"y":0.66},{"d":"UZ Gent","s":"Classifier (Cl.)","x":0.25,"y":0.6},{"d":"UZ Gent","s":"Classifier (Cl.)","x":0.3,"y":0.54},{"d":"UZ Gent","s":"Classifier (Cl.)","x":0.4,"y":0.44},{"d":"UZ Gent","s":"Classifier (Cl.)","x":0.5,"y":0.34},{"d":"UZ Gent","s":"Classifier (Cl.)","x":0.6,"y":0.25},{"d":"UZ Gent","s":"Classifier (Cl.)","x":0.7,"y":0.18},{"d":"UZ Gent","s":"Classifier (Cl.)","x":0.75,"y":0.15},{"d":"UZ Gent","s":"Classifier (Cl.)","x":0.8,"y":0.12},{"d":"UZ Gent","s":"Classifier (Cl.)","x":0.85,"y":0.1},{"d":"UZ Gent","s":"Classifier (Cl.)","x":0.9,"y":0.08},{"d":"UZ Gent","s":"Classifier (Cl.)","x":0.95,"y":0.065},{"d":"UZ Gent","s":"Classifier (Cl.)","x":1,"y":0.05},
{"d":"UZ Gent","s":"Random Classifier","x":0,"y":0.05},{"d":"UZ Gent","s":"Random Classifier","x":1,"y":0.05},
{"d":"eICU","s":"Dist. Reg.","x":0,"y":1},{"d":"eICU","s":"Dist. Reg.","x":0.02,"y":0.97},{"d":"eICU","s":"Dist. Reg.","x":0.05,"y":0.95},{"d":"eICU","s":"Dist. Reg.","x":0.1,"y":0.92},{"d":"eICU","s":"Dist. Reg.","x":0.2,"y":0.9},{"d":"eICU","s":"Dist. Reg.","x":0.25,"y":0.89},{"d":"eICU","s":"Dist. Reg.","x":0.3,"y":0.88},{"d":"eICU","s":"Dist. Reg.","x":0.4,"y":0.85},{"d":"eICU","s":"Dist. Reg.","x":0.5,"y":0.82},{"d":"eICU","s":"Dist. Reg.","x":0.6,"y":0.76},{"d":"eICU","s":"Dist. Reg.","x":0.7,"y":0.67},{"d":"eICU","s":"Dist. Reg.","x":0.75,"y":0.62},{"d":"eICU","s":"Dist. Reg.","x":0.8,"y":0.55},{"d":"eICU","s":"Dist. Reg.","x":0.85,"y":0.47},{"d":"eICU","s":"Dist. Reg.","x":0.9,"y":0.37},{"d":"eICU","s":"Dist. Reg.","x":0.95,"y":0.24},{"d":"eICU","s":"Dist. Reg.","x":1,"y":0.07},
{"d":"eICU","s":"Classifier (Cl.)","x":0,"y":0.2},{"d":"eICU","s":"Classifier (Cl.)","x":0.003,"y":0.8},{"d":"eICU","s":"Classifier (Cl.)","x":0.01,"y":0.95},{"d":"eICU","s":"Classifier (Cl.)","x":0.05,"y":0.93},{"d":"eICU","s":"Classifier (Cl.)","x":0.1,"y":0.88},{"d":"eICU","s":"Classifier (Cl.)","x":0.15,"y":0.84},{"d":"eICU","s":"Classifier (Cl.)","x":0.2,"y":0.8},{"d":"eICU","s":"Classifier (Cl.)","x":0.25,"y":0.78},{"d":"eICU","s":"Classifier (Cl.)","x":0.3,"y":0.75},{"d":"eICU","s":"Classifier (Cl.)","x":0.4,"y":0.68},{"d":"eICU","s":"Classifier (Cl.)","x":0.5,"y":0.6},{"d":"eICU","s":"Classifier (Cl.)","x":0.6,"y":0.5},{"d":"eICU","s":"Classifier (Cl.)","x":0.7,"y":0.39},{"d":"eICU","s":"Classifier (Cl.)","x":0.75,"y":0.33},{"d":"eICU","s":"Classifier (Cl.)","x":0.8,"y":0.26},{"d":"eICU","s":"Classifier (Cl.)","x":0.85,"y":0.2},{"d":"eICU","s":"Classifier (Cl.)","x":0.9,"y":0.15},{"d":"eICU","s":"Classifier (Cl.)","x":0.95,"y":0.1},{"d":"eICU","s":"Classifier (Cl.)","x":1,"y":0.07},
{"d":"eICU","s":"Random Classifier","x":0,"y":0.07},{"d":"eICU","s":"Random Classifier","x":1,"y":0.07},
{"d":"AmsterdamUMC","s":"Dist. Reg.","x":0,"y":1},{"d":"AmsterdamUMC","s":"Dist. Reg.","x":0.1,"y":0.99},{"d":"AmsterdamUMC","s":"Dist. Reg.","x":0.25,"y":0.96},{"d":"AmsterdamUMC","s":"Dist. Reg.","x":0.4,"y":0.93},{"d":"AmsterdamUMC","s":"Dist. Reg.","x":0.5,"y":0.9},{"d":"AmsterdamUMC","s":"Dist. Reg.","x":0.6,"y":0.87},{"d":"AmsterdamUMC","s":"Dist. Reg.","x":0.7,"y":0.82},{"d":"AmsterdamUMC","s":"Dist. Reg.","x":0.75,"y":0.79},{"d":"AmsterdamUMC","s":"Dist. Reg.","x":0.8,"y":0.75},{"d":"AmsterdamUMC","s":"Dist. Reg.","x":0.85,"y":0.67},{"d":"AmsterdamUMC","s":"Dist. Reg.","x":0.9,"y":0.55},{"d":"AmsterdamUMC","s":"Dist. Reg.","x":0.93,"y":0.45},{"d":"AmsterdamUMC","s":"Dist. Reg.","x":0.95,"y":0.35},{"d":"AmsterdamUMC","s":"Dist. Reg.","x":0.98,"y":0.2},{"d":"AmsterdamUMC","s":"Dist. Reg.","x":1,"y":0.07},
{"d":"AmsterdamUMC","s":"Classifier (Cl.)","x":0,"y":0.83},{"d":"AmsterdamUMC","s":"Classifier (Cl.)","x":0.003,"y":1},{"d":"AmsterdamUMC","s":"Classifier (Cl.)","x":0.02,"y":0.97},{"d":"AmsterdamUMC","s":"Classifier (Cl.)","x":0.05,"y":0.96},{"d":"AmsterdamUMC","s":"Classifier (Cl.)","x":0.1,"y":0.92},{"d":"AmsterdamUMC","s":"Classifier (Cl.)","x":0.15,"y":0.89},{"d":"AmsterdamUMC","s":"Classifier (Cl.)","x":0.2,"y":0.86},{"d":"AmsterdamUMC","s":"Classifier (Cl.)","x":0.25,"y":0.83},{"d":"AmsterdamUMC","s":"Classifier (Cl.)","x":0.3,"y":0.8},{"d":"AmsterdamUMC","s":"Classifier (Cl.)","x":0.4,"y":0.72},{"d":"AmsterdamUMC","s":"Classifier (Cl.)","x":0.5,"y":0.64},{"d":"AmsterdamUMC","s":"Classifier (Cl.)","x":0.6,"y":0.54},{"d":"AmsterdamUMC","s":"Classifier (Cl.)","x":0.7,"y":0.41},{"d":"AmsterdamUMC","s":"Classifier (Cl.)","x":0.75,"y":0.33},{"d":"AmsterdamUMC","s":"Classifier (Cl.)","x":0.8,"y":0.25},{"d":"AmsterdamUMC","s":"Classifier (Cl.)","x":0.85,"y":0.18},{"d":"AmsterdamUMC","s":"Classifier (Cl.)","x":0.9,"y":0.12},{"d":"AmsterdamUMC","s":"Classifier (Cl.)","x":0.95,"y":0.09},{"d":"AmsterdamUMC","s":"Classifier (Cl.)","x":1,"y":0.07},
{"d":"AmsterdamUMC","s":"Random Classifier","x":0,"y":0.065},{"d":"AmsterdamUMC","s":"Random Classifier","x":1,"y":0.065}
]
},
"vconcat": [
{"hconcat": [
 {"vconcat": [
  {"concat": [
   {"width":95,"height":95,"title":"MIMIC-IV",
    "encoding":{"x":{"field":"x","type":"quantitative","scale":{"domain":[0,1],"nice":false},"axis":{"values":[0,0.2,0.4,0.6,0.8,1],"format":".1f","labels":false,"title":null}},
                "y":{"field":"y","type":"quantitative","scale":{"domain":[0,1],"nice":false},"axis":{"values":[0,0.2,0.4,0.6,0.8,1],"format":".1f","title":"CEP"}}},
    "layer":[{"data":{"name":"diag"},"mark":{"type":"line","color":"#7f7f7f","strokeDash":[3,2],"strokeWidth":0.7},"encoding":{}},
             {"data":{"name":"a"},"transform":[{"filter":"datum.d == 'MIMIC-IV'"}],"mark":{"type":"line","interpolate":"step-after","strokeWidth":1.1},"encoding":{"color":{"field":"s","type":"nominal","scale":{"domain":["Dist. Reg.","Classifier"],"range":["#1f77b4","#ff7f0e"]},"legend":null}}}]},
   {"width":95,"height":95,"title":"UZ Gent",
    "encoding":{"x":{"field":"x","type":"quantitative","scale":{"domain":[0,1],"nice":false},"axis":{"values":[0,0.2,0.4,0.6,0.8,1],"format":".1f","labels":false,"title":null}},
                "y":{"field":"y","type":"quantitative","scale":{"domain":[0,1],"nice":false},"axis":{"values":[0,0.2,0.4,0.6,0.8,1],"format":".1f","labels":false,"title":null}}},
    "layer":[{"data":{"name":"diag"},"mark":{"type":"line","color":"#7f7f7f","strokeDash":[3,2],"strokeWidth":0.7},"encoding":{}},
             {"data":{"name":"a"},"transform":[{"filter":"datum.d == 'UZ Gent'"}],"mark":{"type":"line","interpolate":"step-after","strokeWidth":1.1},"encoding":{"color":{"field":"s","type":"nominal","scale":{"domain":["Dist. Reg.","Classifier"],"range":["#1f77b4","#ff7f0e"]},"legend":null}}}]},
   {"width":95,"height":95,"title":"eICU",
    "encoding":{"x":{"field":"x","type":"quantitative","scale":{"domain":[0,1],"nice":false},"axis":{"values":[0,0.2,0.4,0.6,0.8,1],"format":".1f","title":"Forecast value"}},
                "y":{"field":"y","type":"quantitative","scale":{"domain":[0,1],"nice":false},"axis":{"values":[0,0.2,0.4,0.6,0.8,1],"format":".1f","title":"CEP"}}},
    "layer":[{"data":{"name":"diag"},"mark":{"type":"line","color":"#7f7f7f","strokeDash":[3,2],"strokeWidth":0.7},"encoding":{}},
             {"data":{"name":"a"},"transform":[{"filter":"datum.d == 'eICU'"}],"mark":{"type":"line","interpolate":"step-after","strokeWidth":1.1},"encoding":{"color":{"field":"s","type":"nominal","scale":{"domain":["Dist. Reg.","Classifier"],"range":["#1f77b4","#ff7f0e"]},"legend":null}}}]},
   {"width":95,"height":95,"title":"AmsterdamUMC",
    "encoding":{"x":{"field":"x","type":"quantitative","scale":{"domain":[0,1],"nice":false},"axis":{"values":[0,0.2,0.4,0.6,0.8,1],"format":".1f","title":"Forecast value"}},
                "y":{"field":"y","type":"quantitative","scale":{"domain":[0,1],"nice":false},"axis":{"values":[0,0.2,0.4,0.6,0.8,1],"format":".1f","labels":false,"title":null}}},
    "layer":[{"data":{"name":"diag"},"mark":{"type":"line","color":"#7f7f7f","strokeDash":[3,2],"strokeWidth":0.7},"encoding":{}},
             {"data":{"name":"a"},"transform":[{"filter":"datum.d == 'AmsterdamUMC'"}],"mark":{"type":"line","interpolate":"step-after","strokeWidth":1.1},"encoding":{"color":{"field":"s","type":"nominal","scale":{"domain":["Dist. Reg.","Classifier"],"range":["#1f77b4","#ff7f0e"]},"legend":null}}}]}
  ], "columns": 2, "bounds": "flush", "spacing": {"row": 18.5, "column": 18.5}},
  {"width":1,"height":1,"view":{"stroke":null},
   "data":{"values":[{"s":"Dist. Reg."},{"s":"Classifier"}]},
   "mark":{"type":"line","strokeWidth":1.2},
   "encoding":{"color":{"field":"s","type":"nominal","scale":{"domain":["Dist. Reg.","Classifier"],"range":["#1f77b4","#ff7f0e"]},
     "legend":{"orient":"top","direction":"horizontal","title":null,"offset":0,"strokeColor":"#cccccc","fillColor":"white","padding":1.5,"cornerRadius":2,"symbolType":"M-2,0H2","symbolSize":42,"symbolOffset":4,"symbolStrokeWidth":1.2,"labelFontSize":5.5,"columnPadding":5,"labelOffset":10}}}}
 ], "spacing": 2, "center": true, "resolve": {"scale": {"color": "independent"}},
 "title": {"text": ["(a)  CORP (consistent, optimal, repro-","ducible, PAV (pool-adjacent violators)","algorithm-based) reliability diagrams [22],","and the y-axis shows the observed frequency","of the outcome. A perfectly calibrated model","lies along the diagonal: predictions match","observed outcomes. Curves above the diag-","onal indicate underestimation, while curves","below indicate overestimation."],
   "orient":"bottom","anchor":"start","font":"Liberation Serif","fontSize":13.5,"fontWeight":"normal","color":"#111","lineHeight":15,"offset":1,"dx":-5}},
 {"vconcat": [
  {"concat": [
   {"width":100,"height":90,"title":{"text":["MIMIC-IV","Dist. Reg. AUC=0.672, Cl. AUC=0.641"],"fontSize":5.4,"lineHeight":7,"offset":5},
    "data":{"name":"b"},"transform":[{"filter":"datum.d == 'MIMIC-IV'"}],"mark":{"type":"line","strokeWidth":1.1},
    "encoding":{"x":{"field":"x","type":"quantitative","scale":{"domain":[-0.05,1.05],"nice":false},"axis":{"values":[0,0.25,0.5,0.75,1],"format":".2f","labels":false,"title":null}},
                "y":{"field":"y","type":"quantitative","scale":{"domain":[-0.05,1.05],"nice":false},"axis":{"values":[0,0.2,0.4,0.6,0.8,1],"format":".1f","title":"Precision","labelFontSize":5.7}},
                "color":{"field":"s","type":"nominal","scale":{"domain":["Dist. Reg.","Classifier (Cl.)","Random Classifier"],"range":["#1f77b4","#ff7f0e","#000000"]},"legend":null},
                "strokeDash":{"field":"s","type":"nominal","scale":{"domain":["Dist. Reg.","Classifier (Cl.)","Random Classifier"],"range":[[1,0],[1,0],[3,2]]},"legend":null}}},
   {"width":100,"height":90,"title":{"text":["UZ Gent","Dist. Reg. AUC=0.771, Cl. AUC=0.708"],"fontSize":5.4,"lineHeight":7,"offset":5},
    "data":{"name":"b"},"transform":[{"filter":"datum.d == 'UZ Gent'"}],"mark":{"type":"line","strokeWidth":1.1},
    "encoding":{"x":{"field":"x","type":"quantitative","scale":{"domain":[-0.05,1.05],"nice":false},"axis":{"values":[0,0.25,0.5,0.75,1],"format":".2f","labels":false,"title":null}},
                "y":{"field":"y","type":"quantitative","scale":{"domain":[-0.05,1.05],"nice":false},"axis":{"values":[0,0.2,0.4,0.6,0.8,1],"format":".1f","labels":false,"title":null}},
                "color":{"field":"s","type":"nominal","scale":{"domain":["Dist. Reg.","Classifier (Cl.)","Random Classifier"],"range":["#1f77b4","#ff7f0e","#000000"]},"legend":null},
                "strokeDash":{"field":"s","type":"nominal","scale":{"domain":["Dist. Reg.","Classifier (Cl.)","Random Classifier"],"range":[[1,0],[1,0],[3,2]]},"legend":null}}},
   {"width":100,"height":90,"title":{"text":["eICU","Dist. Reg. AUC=0.804, Cl. AUC=0.756"],"fontSize":5.4,"lineHeight":7,"offset":5},
    "data":{"name":"b"},"transform":[{"filter":"datum.d == 'eICU'"}],"mark":{"type":"line","strokeWidth":1.1},
    "encoding":{"x":{"field":"x","type":"quantitative","scale":{"domain":[-0.05,1.05],"nice":false},"axis":{"values":[0,0.25,0.5,0.75,1],"format":".2f","title":"Recall","labelFontSize":5.7}},
                "y":{"field":"y","type":"quantitative","scale":{"domain":[-0.05,1.05],"nice":false},"axis":{"values":[0,0.2,0.4,0.6,0.8,1],"format":".1f","title":"Precision","labelFontSize":5.7}},
                "color":{"field":"s","type":"nominal","scale":{"domain":["Dist. Reg.","Classifier (Cl.)","Random Classifier"],"range":["#1f77b4","#ff7f0e","#000000"]},"legend":null},
                "strokeDash":{"field":"s","type":"nominal","scale":{"domain":["Dist. Reg.","Classifier (Cl.)","Random Classifier"],"range":[[1,0],[1,0],[3,2]]},"legend":null}}},
   {"width":100,"height":90,"title":{"text":["AmsterdamUMC","Dist. Reg. AUC=0.877, Cl. AUC=0.837"],"fontSize":5.4,"lineHeight":7,"offset":5},
    "data":{"name":"b"},"transform":[{"filter":"datum.d == 'AmsterdamUMC'"}],"mark":{"type":"line","strokeWidth":1.1},
    "encoding":{"x":{"field":"x","type":"quantitative","scale":{"domain":[-0.05,1.05],"nice":false},"axis":{"values":[0,0.25,0.5,0.75,1],"format":".2f","title":"Recall","labelFontSize":5.7}},
                "y":{"field":"y","type":"quantitative","scale":{"domain":[-0.05,1.05],"nice":false},"axis":{"values":[0,0.2,0.4,0.6,0.8,1],"format":".1f","labels":false,"title":null}},
                "color":{"field":"s","type":"nominal","scale":{"domain":["Dist. Reg.","Classifier (Cl.)","Random Classifier"],"range":["#1f77b4","#ff7f0e","#000000"]},"legend":null},
                "strokeDash":{"field":"s","type":"nominal","scale":{"domain":["Dist. Reg.","Classifier (Cl.)","Random Classifier"],"range":[[1,0],[1,0],[3,2]]},"legend":null}}}
  ], "columns": 2, "bounds": "flush", "spacing": {"row": 22, "column": 10}},
  {"width":1,"height":1,"view":{"stroke":null},
   "data":{"values":[{"s":"Dist. Reg."},{"s":"Classifier (Cl.)"},{"s":"Random Classifier"}]},
   "mark":{"type":"line","strokeWidth":1.2},
   "encoding":{"color":{"field":"s","type":"nominal","scale":{"domain":["Dist. Reg.","Classifier (Cl.)","Random Classifier"],"range":["#1f77b4","#ff7f0e","#000000"]},
     "legend":{"orient":"top","direction":"horizontal","title":null,"offset":0,"strokeColor":"#cccccc","fillColor":"white","padding":1.5,"cornerRadius":2,"symbolType":"M-2,0H2","symbolSize":42,"symbolOffset":4,"symbolStrokeWidth":1.2,"labelFontSize":5.5,"columnPadding":5,"labelOffset":10}},
     "strokeDash":{"field":"s","type":"nominal","scale":{"domain":["Dist. Reg.","Classifier (Cl.)","Random Classifier"],"range":[[1,0],[1,0],[3,2]]},
     "legend":{"orient":"top","direction":"horizontal","title":null,"offset":0,"strokeColor":"#cccccc","fillColor":"white","padding":1.5,"cornerRadius":2,"symbolType":"M-2,0H2","symbolSize":42,"symbolOffset":4,"symbolStrokeWidth":1.2,"labelFontSize":5.5,"columnPadding":5,"labelOffset":10}}}}
 ], "spacing": 2, "center": true, "resolve": {"scale": {"color": "independent", "strokeDash": "independent"}},
 "title": {"text": ["(b) PR (precision-recall) curve comparison.","Higher curves indicate better discrimination","across decision thresholds, particularly in the","high-precision region."],
   "orient":"bottom","anchor":"start","font":"Liberation Serif","fontSize":12.5,"fontWeight":"normal","color":"#111","lineHeight":15,"offset":2,"dx":-4}}
], "spacing": 16},
{"hconcat": [
 {"vconcat": [
  {"concat": [
   {"width":95,"height":95,"title":"MIMIC-IV",
    "encoding":{"x":{"field":"x","type":"quantitative","scale":{"domain":[0,1],"nice":false},"axis":{"values":[0,0.2,0.4,0.6,0.8,1],"format":".1f","labels":false,"title":null}},
                "y":{"field":"y","type":"quantitative","scale":{"domain":[0,1],"nice":false},"axis":{"values":[0,0.2,0.4,0.6,0.8,1],"format":".1f","title":"CEP"}}},
    "layer":[{"data":{"name":"diag"},"mark":{"type":"line","color":"#7f7f7f","strokeDash":[3,2],"strokeWidth":0.7},"encoding":{}},
             {"data":{"name":"c"},"transform":[{"filter":"datum.d == 'MIMIC-IV'"}],"mark":{"type":"line","interpolate":"step-after","strokeWidth":1.1},"encoding":{"color":{"field":"s","type":"nominal","scale":{"domain":["Dist. Reg.","Classifier"],"range":["#1f77b4","#ff7f0e"]},"legend":null}}}]},
   {"width":95,"height":95,"title":"UZ Gent",
    "encoding":{"x":{"field":"x","type":"quantitative","scale":{"domain":[0,1],"nice":false},"axis":{"values":[0,0.2,0.4,0.6,0.8,1],"format":".1f","labels":false,"title":null}},
                "y":{"field":"y","type":"quantitative","scale":{"domain":[0,1],"nice":false},"axis":{"values":[0,0.2,0.4,0.6,0.8,1],"format":".1f","labels":false,"title":null}}},
    "layer":[{"data":{"name":"diag"},"mark":{"type":"line","color":"#7f7f7f","strokeDash":[3,2],"strokeWidth":0.7},"encoding":{}},
             {"data":{"name":"c"},"transform":[{"filter":"datum.d == 'UZ Gent'"}],"mark":{"type":"line","interpolate":"step-after","strokeWidth":1.1},"encoding":{"color":{"field":"s","type":"nominal","scale":{"domain":["Dist. Reg.","Classifier"],"range":["#1f77b4","#ff7f0e"]},"legend":null}}}]},
   {"width":95,"height":95,"title":"eICU",
    "encoding":{"x":{"field":"x","type":"quantitative","scale":{"domain":[0,1],"nice":false},"axis":{"values":[0,0.2,0.4,0.6,0.8,1],"format":".1f","title":"Forecast value"}},
                "y":{"field":"y","type":"quantitative","scale":{"domain":[0,1],"nice":false},"axis":{"values":[0,0.2,0.4,0.6,0.8,1],"format":".1f","title":"CEP"}}},
    "layer":[{"data":{"name":"diag"},"mark":{"type":"line","color":"#7f7f7f","strokeDash":[3,2],"strokeWidth":0.7},"encoding":{}},
             {"data":{"name":"c"},"transform":[{"filter":"datum.d == 'eICU'"}],"mark":{"type":"line","interpolate":"step-after","strokeWidth":1.1},"encoding":{"color":{"field":"s","type":"nominal","scale":{"domain":["Dist. Reg.","Classifier"],"range":["#1f77b4","#ff7f0e"]},"legend":null}}}]},
   {"width":95,"height":95,"title":"AmsterdamUMC",
    "encoding":{"x":{"field":"x","type":"quantitative","scale":{"domain":[0,1],"nice":false},"axis":{"values":[0,0.2,0.4,0.6,0.8,1],"format":".1f","title":"Forecast value"}},
                "y":{"field":"y","type":"quantitative","scale":{"domain":[0,1],"nice":false},"axis":{"values":[0,0.2,0.4,0.6,0.8,1],"format":".1f","labels":false,"title":null}}},
    "layer":[{"data":{"name":"diag"},"mark":{"type":"line","color":"#7f7f7f","strokeDash":[3,2],"strokeWidth":0.7},"encoding":{}},
             {"data":{"name":"c"},"transform":[{"filter":"datum.d == 'AmsterdamUMC'"}],"mark":{"type":"line","interpolate":"step-after","strokeWidth":1.1},"encoding":{"color":{"field":"s","type":"nominal","scale":{"domain":["Dist. Reg.","Classifier"],"range":["#1f77b4","#ff7f0e"]},"legend":null}}}]}
  ], "columns": 2, "bounds": "flush", "spacing": {"row": 19, "column": 18.5}},
  {"width":1,"height":1,"view":{"stroke":null},
   "data":{"values":[{"s":"Dist. Reg."},{"s":"Classifier"}]},
   "mark":{"type":"line","strokeWidth":1.2},
   "encoding":{"color":{"field":"s","type":"nominal","scale":{"domain":["Dist. Reg.","Classifier"],"range":["#1f77b4","#ff7f0e"]},
     "legend":{"orient":"top","direction":"horizontal","title":null,"offset":0,"strokeColor":"#cccccc","fillColor":"white","padding":1.5,"cornerRadius":2,"symbolType":"M-2,0H2","symbolSize":42,"symbolOffset":4,"symbolStrokeWidth":1.2,"labelFontSize":5.5,"columnPadding":5,"labelOffset":10}}}}
 ], "spacing": 2, "center": true, "resolve": {"scale": {"color": "independent"}},
 "title": {"text": ["(c) CORP reliability diagrams under alter-","native definitions of baseline sCr used in the","KDIGO sCr criteria (Table A1)."],
   "orient":"bottom","anchor":"start","font":"Liberation Serif","fontSize":12.5,"fontWeight":"normal","color":"#111","lineHeight":14.2,"offset":4,"dx":-5}},
 {"vconcat": [
  {"concat": [
   {"width":100,"height":88,"title":{"text":["MIMIC-IV","Dist. Reg. AUC=0.662, Cl. AUC=0.514"],"fontSize":5.4,"lineHeight":7,"offset":5},
    "data":{"name":"dd"},"transform":[{"filter":"datum.d == 'MIMIC-IV'"}],"mark":{"type":"line","strokeWidth":1.1},
    "encoding":{"x":{"field":"x","type":"quantitative","scale":{"domain":[-0.05,1.05],"nice":false},"axis":{"values":[0,0.25,0.5,0.75,1],"format":".2f","labels":false,"title":null}},
                "y":{"field":"y","type":"quantitative","scale":{"domain":[-0.05,1.05],"nice":false},"axis":{"values":[0,0.2,0.4,0.6,0.8,1],"format":".1f","title":"Precision","labelFontSize":5.7}},
                "color":{"field":"s","type":"nominal","scale":{"domain":["Dist. Reg.","Classifier (Cl.)","Random Classifier"],"range":["#1f77b4","#ff7f0e","#000000"]},"legend":null},
                "strokeDash":{"field":"s","type":"nominal","scale":{"domain":["Dist. Reg.","Classifier (Cl.)","Random Classifier"],"range":[[1,0],[1,0],[3,2]]},"legend":null}}},
   {"width":100,"height":88,"title":{"text":["UZ Gent","Dist. Reg. AUC=0.768, Cl. AUC=0.406"],"fontSize":5.4,"lineHeight":7,"offset":5},
    "data":{"name":"dd"},"transform":[{"filter":"datum.d == 'UZ Gent'"}],"mark":{"type":"line","strokeWidth":1.1},
    "encoding":{"x":{"field":"x","type":"quantitative","scale":{"domain":[-0.05,1.05],"nice":false},"axis":{"values":[0,0.25,0.5,0.75,1],"format":".2f","labels":false,"title":null}},
                "y":{"field":"y","type":"quantitative","scale":{"domain":[-0.05,1.05],"nice":false},"axis":{"values":[0,0.2,0.4,0.6,0.8,1],"format":".1f","labels":false,"title":null}},
                "color":{"field":"s","type":"nominal","scale":{"domain":["Dist. Reg.","Classifier (Cl.)","Random Classifier"],"range":["#1f77b4","#ff7f0e","#000000"]},"legend":null},
                "strokeDash":{"field":"s","type":"nominal","scale":{"domain":["Dist. Reg.","Classifier (Cl.)","Random Classifier"],"range":[[1,0],[1,0],[3,2]]},"legend":null}}},
   {"width":100,"height":88,"title":{"text":["eICU","Dist. Reg. AUC=0.729, Cl. AUC=0.559"],"fontSize":5.4,"lineHeight":7,"offset":5},
    "data":{"name":"dd"},"transform":[{"filter":"datum.d == 'eICU'"}],"mark":{"type":"line","strokeWidth":1.1},
    "encoding":{"x":{"field":"x","type":"quantitative","scale":{"domain":[-0.05,1.05],"nice":false},"axis":{"values":[0,0.25,0.5,0.75,1],"format":".2f","title":"Recall","labelFontSize":5.7}},
                "y":{"field":"y","type":"quantitative","scale":{"domain":[-0.05,1.05],"nice":false},"axis":{"values":[0,0.2,0.4,0.6,0.8,1],"format":".1f","title":"Precision","labelFontSize":5.7}},
                "color":{"field":"s","type":"nominal","scale":{"domain":["Dist. Reg.","Classifier (Cl.)","Random Classifier"],"range":["#1f77b4","#ff7f0e","#000000"]},"legend":null},
                "strokeDash":{"field":"s","type":"nominal","scale":{"domain":["Dist. Reg.","Classifier (Cl.)","Random Classifier"],"range":[[1,0],[1,0],[3,2]]},"legend":null}}},
   {"width":100,"height":88,"title":{"text":["AmsterdamUMC","Dist. Reg. AUC=0.843, Cl. AUC=0.599"],"fontSize":5.4,"lineHeight":7,"offset":5},
    "data":{"name":"dd"},"transform":[{"filter":"datum.d == 'AmsterdamUMC'"}],"mark":{"type":"line","strokeWidth":1.1},
    "encoding":{"x":{"field":"x","type":"quantitative","scale":{"domain":[-0.05,1.05],"nice":false},"axis":{"values":[0,0.25,0.5,0.75,1],"format":".2f","title":"Recall","labelFontSize":5.7}},
                "y":{"field":"y","type":"quantitative","scale":{"domain":[-0.05,1.05],"nice":false},"axis":{"values":[0,0.2,0.4,0.6,0.8,1],"format":".1f","labels":false,"title":null}},
                "color":{"field":"s","type":"nominal","scale":{"domain":["Dist. Reg.","Classifier (Cl.)","Random Classifier"],"range":["#1f77b4","#ff7f0e","#000000"]},"legend":null},
                "strokeDash":{"field":"s","type":"nominal","scale":{"domain":["Dist. Reg.","Classifier (Cl.)","Random Classifier"],"range":[[1,0],[1,0],[3,2]]},"legend":null}}}
  ], "columns": 2, "bounds": "flush", "spacing": {"row": 23, "column": 10}},
  {"width":1,"height":1,"view":{"stroke":null},
   "data":{"values":[{"s":"Dist. Reg."},{"s":"Classifier (Cl.)"},{"s":"Random Classifier"}]},
   "mark":{"type":"line","strokeWidth":1.2},
   "encoding":{"color":{"field":"s","type":"nominal","scale":{"domain":["Dist. Reg.","Classifier (Cl.)","Random Classifier"],"range":["#1f77b4","#ff7f0e","#000000"]},
     "legend":{"orient":"top","direction":"horizontal","title":null,"offset":0,"strokeColor":"#cccccc","fillColor":"white","padding":1.5,"cornerRadius":2,"symbolType":"M-2,0H2","symbolSize":42,"symbolOffset":4,"symbolStrokeWidth":1.2,"labelFontSize":5.5,"columnPadding":5,"labelOffset":10}},
     "strokeDash":{"field":"s","type":"nominal","scale":{"domain":["Dist. Reg.","Classifier (Cl.)","Random Classifier"],"range":[[1,0],[1,0],[3,2]]},
     "legend":{"orient":"top","direction":"horizontal","title":null,"offset":0,"strokeColor":"#cccccc","fillColor":"white","padding":1.5,"cornerRadius":2,"symbolType":"M-2,0H2","symbolSize":42,"symbolOffset":4,"symbolStrokeWidth":1.2,"labelFontSize":5.5,"columnPadding":5,"labelOffset":10}}}}
 ], "spacing": 2, "center": true, "resolve": {"scale": {"color": "independent", "strokeDash": "independent"}},
 "title": {"text": ["(d) PR curve comparison under alterna-","tive definitions of baseline sCr used in the","KDIGO sCr criteria (Table A1)."],
   "orient":"bottom","anchor":"start","font":"Liberation Serif","fontSize":12.5,"fontWeight":"normal","color":"#111","lineHeight":14.2,"offset":8,"dx":-13}}
], "spacing": 10}
],
"spacing": 12,
"config": {
 "font": "DejaVu Sans",
 "view": {"stroke": "#333333", "strokeWidth": 0.8},
 "axis": {"labelFontSize": 6.2, "titleFontSize": 6, "titleFontWeight": "bold", "labelColor": "#222222", "titleColor": "#000000", "tickColor": "#333333", "tickSize": 2.5, "tickWidth": 0.7, "domain": false, "gridColor": "#dddddd", "gridWidth": 0.8, "labelPadding": 1, "titlePadding": 0.5, "labelFlush": false, "labelOverlap": false},
 "title": {"fontSize": 6.7, "fontWeight": "normal", "color": "#222222", "offset": -2, "lineHeight": 7},
 "legend": {"labelFont": "DejaVu Sans", "labelColor": "#222222"}
}
}
